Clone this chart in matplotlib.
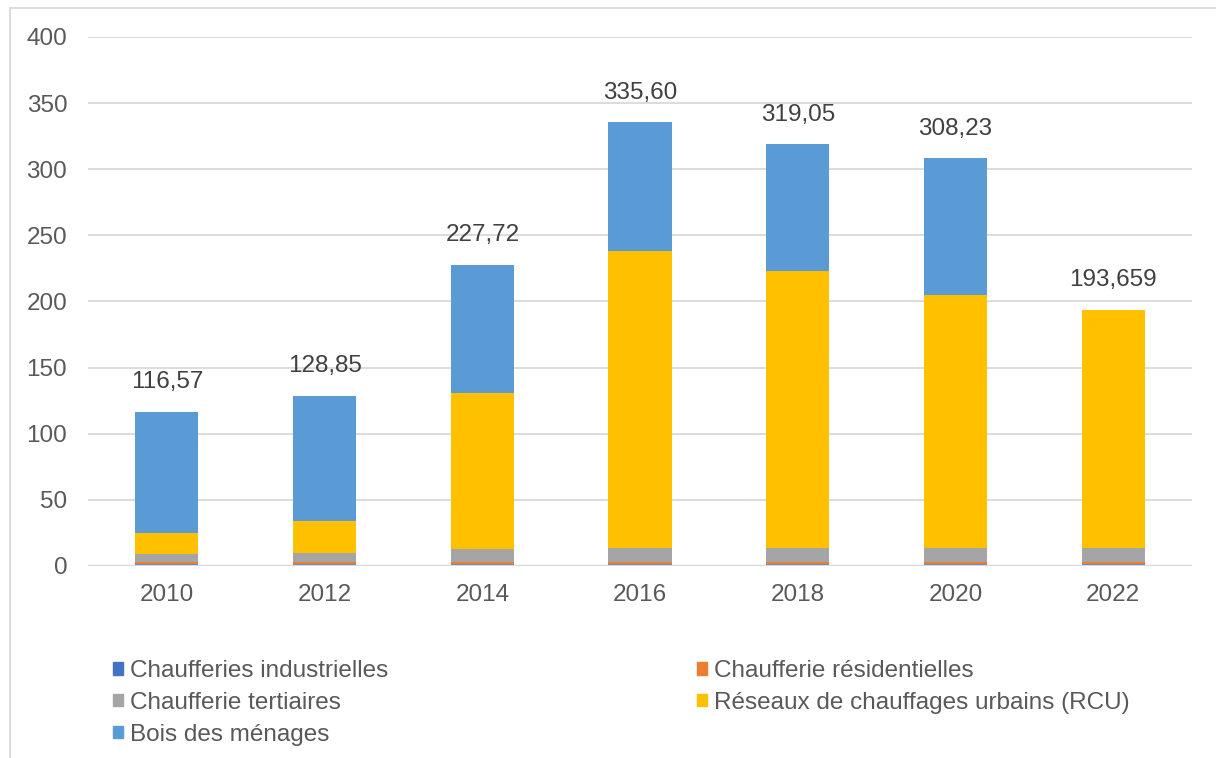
import matplotlib.pyplot as plt
from matplotlib import rcParams
from matplotlib.patches import Rectangle, Patch

rcParams['font.family'] = ['Liberation Sans', 'DejaVu Sans']

# données (ktep)
years = ['2010', '2012', '2014', '2016', '2018', '2020', '2022']
totals = [116.57, 128.85, 227.72, 335.60, 319.05, 308.23, 193.659]
total_labels = ['116,57', '128,85', '227,72', '335,60', '319,05', '308,23', '193,659']
industrielles = [1.5, 1.5, 1.5, 1.5, 1.5, 1.5, 1.5]
residentielles = [1.3, 1.3, 1.3, 1.3, 1.3, 1.3, 1.3]
tertiaires = [6.2, 6.8, 10.0, 10.8, 10.8, 10.8, 10.8]
rcu = [16.0, 24.5, 118.0, 224.5, 209.5, 191.5, 180.059]
# bois des ménages = reste du total
menages = [t - a - b - c - d for t, a, b, c, d in
           zip(totals, industrielles, residentielles, tertiaires, rcu)]

names = ['Chaufferies industrielles', 'Chaufferie résidentielles',
         'Chaufferie tertiaires', 'Réseaux de chauffages urbains (RCU)',
         'Bois des ménages']
colors = ['#4472C4', '#ED7D31', '#A5A5A5', '#FFC000', '#5B9BD5']
series = [industrielles, residentielles, tertiaires, rcu, menages]

fs = 17.5
fig = plt.figure(figsize=(12.16, 7.58), dpi=100)
ax = fig.add_axes([0.0724, 0.2533, 0.9079, 0.6979])

x = range(len(years))
bottom = [0] * len(years)
for vals, col in zip(series, colors):
    ax.bar(x, vals, width=0.4, bottom=bottom, color=col, zorder=3)
    bottom = [b + v for b, v in zip(bottom, vals)]

for i, t in enumerate(totals):
    ax.text(i, t + 14, total_labels[i], ha='center', va='bottom',
            fontsize=fs, color='#404040')

ax.set_xlim(-0.5, 6.5)
ax.set_ylim(0, 400)
ax.set_yticks(range(0, 401, 50))
ax.set_xticks(list(x))
ax.set_xticklabels(years)
ax.tick_params(axis='both', length=0, labelsize=fs, labelcolor='#595959')
ax.tick_params(axis='y', pad=15)
ax.tick_params(axis='x', pad=13)
ax.grid(axis='y', color='#D9D9D9', linewidth=1.3, zorder=0)
for s in ax.spines.values():
    s.set_visible(False)
ax.axhline(0, color='#D9D9D9', linewidth=2.5, zorder=4)

# cadre du graphique
fig.patches.append(Rectangle((10 / 1216, -0.05), 1.2, 1 - 8 / 758 + 0.05,
                             transform=fig.transFigure, fill=False,
                             edgecolor='#D9D9D9', linewidth=1.3))

handles = [Patch(color=c) for c in colors]
order = [0, 2, 4, 1, 3]
fig.legend([handles[k] for k in order], [names[k] for k in order],
           ncol=2, loc='upper left', bbox_to_anchor=(0.075, 0.158),
           frameon=False, fontsize=fs, labelcolor='#595959',
           handlelength=0.42, handleheight=0.42, handletextpad=0.28,
           columnspacing=12.7, labelspacing=0.4)

fig.savefig('out.png', dpi=100, facecolor='white')
